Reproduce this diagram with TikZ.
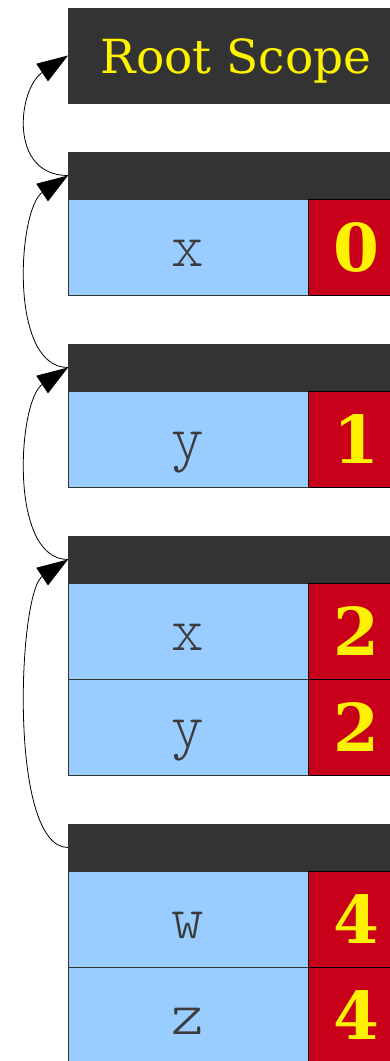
\documentclass[tikz,border=0pt]{standalone}
\usepackage{fontspec}
\setmainfont{DejaVu Serif}
\newfontfamily\keyfont{lmmonolt10-regular.otf}
\usetikzlibrary{arrows.meta}
\definecolor{hdr}{HTML}{333333}
\definecolor{keyblue}{HTML}{99CCFF}
\definecolor{valred}{HTML}{C8001A}
\definecolor{txtgray}{HTML}{3C3C3C}
\tikzset{
  cellbase/.style={draw=hdr, line width=0.8pt, anchor=north west, inner sep=0pt, outer sep=0pt},
  hdrbox/.style={cellbase, fill=hdr, minimum width=336pt, minimum height=47pt},
  rootbox/.style={cellbase, fill=hdr, minimum width=336pt, minimum height=95pt,
     font=\fontsize{47}{47}\selectfont, text=yellow, text height=35pt, text depth=0pt},
  keycell/.style={cellbase, fill=keyblue, minimum width=240pt, minimum height=96pt,
     font=\fontsize{62}{62}\keyfont, text=txtgray, text height=38pt, text depth=0pt},
  valcell/.style={cellbase, draw=black, fill=valred, minimum width=96pt, minimum height=96pt,
     font=\fontsize{66}{66}\bfseries, text=yellow, text height=48pt, text depth=0pt},
  link/.style={draw=black, line width=0.8pt, -{Triangle[length=31pt,width=21pt]}}
}
\begin{document}
\begin{tikzpicture}[x=1pt,y=-1pt]
\useasboundingbox (0,0) rectangle (390,1061);
\clip (0,0) rectangle (390,1061);
\node[rootbox] (root) at (68,8) {Root Scope};
% scope 1
\node[hdrbox] (h1) at (68,152) {};
\node[keycell] (k1) at (68,199) {x};
\node[valcell] (v1) at (308,199) {0};
% scope 2
\node[hdrbox] (h2) at (68,344) {};
\node[keycell] (k2) at (68,391) {y};
\node[valcell] (v2) at (308,391) {1};
% scope 3
\node[hdrbox] (h3) at (68,536) {};
\node[keycell] (k3a) at (68,583) {x};
\node[valcell] (v3a) at (308,583) {2};
\node[keycell] (k3b) at (68,679) {y};
\node[valcell] (v3b) at (308,679) {2};
% scope 4
\node[hdrbox] (h4) at (68,824) {};
\node[keycell] (k4a) at (68,871) {w};
\node[valcell] (v4a) at (308,871) {4};
\node[keycell] (k4b) at (68,967) {z};
\node[valcell] (v4b) at (308,967) {4};
% parent links
\draw[link] (h1.west) .. controls +(-60,0) and +(-50,33) .. (root.west);
\draw[link] (h2.west) .. controls +(-60,0) and +(-50,33) .. (h1.west);
\draw[link] (h3.west) .. controls +(-60,0) and +(-50,33) .. (h2.west);
\draw[link] (h4.west) .. controls +(-60,0) and +(-50,33) .. (h3.west);
\end{tikzpicture}
\end{document}
